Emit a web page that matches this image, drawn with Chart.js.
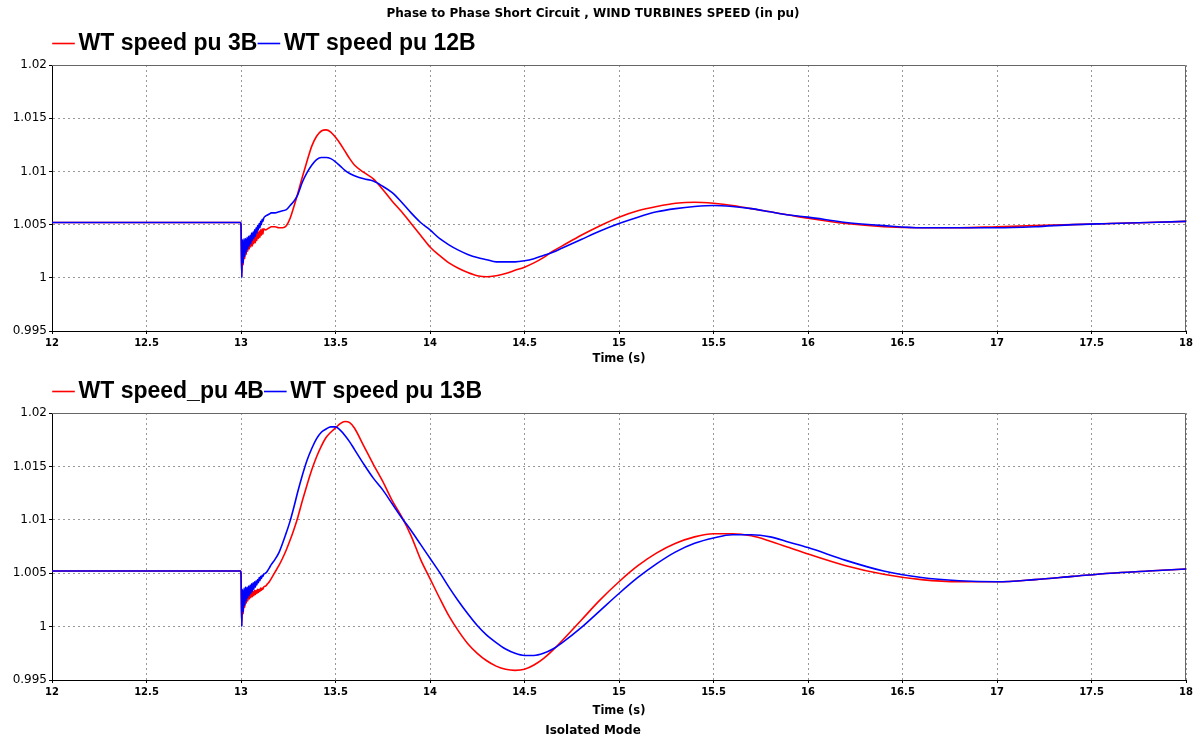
<!DOCTYPE html>
<html>
<head>
<meta charset="utf-8">
<title>WT speed</title>
<script src="https://cdn.jsdelivr.net/npm/chart.js@4.4.0/dist/chart.umd.min.js"></script>
<style>
  html, body { margin: 0; padding: 0; background: #fff; }
  .panel { position: absolute; left: 0; width: 1201px; }
  #panelTop { top: 0; height: 372px; }
  #panelBottom { top: 372px; height: 370px; }
</style>
</head>
<body>
<div class="panel" id="panelTop"><canvas id="topChart"></canvas></div>
<div class="panel" id="panelBottom"><canvas id="bottomChart"></canvas></div>
<script>
// time axis (s), shared by all four traces
const time = [
  12, 12.998,
  13.000, 13.004, 13.008, 13.012, 13.016, 13.020, 13.024, 13.028, 13.032, 13.036,
  13.040, 13.044, 13.048, 13.052, 13.056, 13.060, 13.064, 13.068, 13.072, 13.076,
  13.080, 13.084, 13.088, 13.092, 13.096, 13.100, 13.104, 13.108, 13.112, 13.116, 13.120,
  13.13, 13.14, 13.15, 13.16, 13.18, 13.2, 13.22, 13.24, 13.26, 13.28,
  13.3, 13.325, 13.35, 13.375, 13.4, 13.425, 13.45, 13.475, 13.5, 13.525, 13.55, 13.575, 13.6,
  13.65, 13.7, 13.75, 13.8, 13.85, 13.9, 13.95, 14, 14.05, 14.1, 14.15,
  14.2, 14.25, 14.3, 14.35, 14.4, 14.45, 14.5, 14.55, 14.6, 14.65, 14.7,
  14.8, 14.9, 15, 15.1, 15.2, 15.3, 15.4, 15.5, 15.6, 15.7, 15.8, 15.9, 16,
  16.2, 16.4, 16.6, 16.8, 17, 17.2, 17.4, 17.6, 17.8, 18
];

// upper plot
const speed3B = [
  1.0052, 1.0052,
  1.0050, 1.0001, 1.0033, 1.0012, 1.0034, 1.0018, 1.0034, 1.0022, 1.0035, 1.0025,
  1.0036, 1.0027, 1.0037, 1.0029, 1.0038, 1.0030, 1.0039, 1.0032, 1.0040, 1.0033,
  1.0041, 1.0035, 1.0043, 1.0037, 1.0044, 1.0038, 1.0045, 1.0040, 1.0046, 1.0041, 1.0046,
  1.0045, 1.0046, 1.0047, 1.0048, 1.0048, 1.0047, 1.0047, 1.0049, 1.0056, 1.0067,
  1.0079, 1.0095, 1.0110, 1.0124, 1.0133, 1.0138, 1.0139, 1.0137, 1.0132, 1.0126, 1.0119, 1.0112, 1.0106,
  1.0099, 1.0093, 1.0083, 1.0072, 1.0062, 1.0051, 1.0040, 1.0029, 1.0021, 1.0014, 1.0009,
  1.0005, 1.0002, 1.0001, 1.0002, 1.0004, 1.0007, 1.0010, 1.0014, 1.0019, 1.0025, 1.0030,
  1.0040, 1.0049, 1.0057, 1.0063, 1.0067, 1.0070, 1.0071, 1.0070, 1.0068, 1.0065, 1.0062, 1.0059, 1.0056,
  1.0051, 1.0048, 1.0047, 1.0047, 1.0048, 1.0049, 1.0050, 1.0051, 1.0052, 1.0053
];
const speed12B = [
  1.0052, 1.0052,
  1.0050, 1.0000, 1.0036, 1.0014, 1.0037, 1.0020, 1.0037, 1.0024, 1.0038, 1.0027,
  1.0039, 1.0030, 1.0040, 1.0032, 1.0042, 1.0035, 1.0043, 1.0037, 1.0045, 1.0039,
  1.0047, 1.0042, 1.0049, 1.0045, 1.0051, 1.0047, 1.0053, 1.0050, 1.0055, 1.0053, 1.0056,
  1.0058, 1.0059, 1.0060, 1.0061, 1.0061, 1.0062, 1.0063, 1.0064, 1.0068, 1.0072,
  1.0078, 1.0090, 1.0099, 1.0106, 1.0111, 1.0113, 1.0113, 1.0112, 1.0109, 1.0105, 1.0101, 1.0098, 1.0096,
  1.0093, 1.0091, 1.0086, 1.0080, 1.0071, 1.0061, 1.0052, 1.0045, 1.0037, 1.0031, 1.0026,
  1.0022, 1.0019, 1.0017, 1.0015, 1.0015, 1.0015, 1.0016, 1.0018, 1.0021, 1.0024, 1.0028,
  1.0036, 1.0044, 1.0051, 1.0057, 1.0062, 1.0065, 1.0067, 1.0068, 1.0067, 1.0065, 1.0062, 1.0059, 1.0057,
  1.0052, 1.0049, 1.0047, 1.0047, 1.0047, 1.0048, 1.0050, 1.0051, 1.0052, 1.0053
];

// lower plot
const speed4B = [
  1.0052, 1.0052,
  1.0050, 1.0001, 1.0030, 1.0012, 1.0030, 1.0018, 1.0031, 1.0022, 1.0031, 1.0024,
  1.0032, 1.0026, 1.0032, 1.0027, 1.0033, 1.0028, 1.0033, 1.0029, 1.0034, 1.0030,
  1.0034, 1.0031, 1.0035, 1.0032, 1.0035, 1.0033, 1.0036, 1.0034, 1.0036, 1.0035, 1.0037,
  1.0038, 1.0040, 1.0042, 1.0045, 1.0051, 1.0057, 1.0064, 1.0072, 1.0081, 1.0091,
  1.0102, 1.0118, 1.0133, 1.0147, 1.0159, 1.0169, 1.0177, 1.0182, 1.0186, 1.0190, 1.0192, 1.0191, 1.0186,
  1.0169, 1.0152, 1.0136, 1.0118, 1.0103, 1.0085, 1.0063, 1.0045, 1.0027, 1.0010, 0.9996,
  0.9984, 0.9975, 0.9968, 0.9963, 0.9960, 0.9959, 0.9960, 0.9964, 0.9970, 0.9978, 0.9987,
  1.0006, 1.0025, 1.0042, 1.0057, 1.0069, 1.0078, 1.0084, 1.0087, 1.0087, 1.0085, 1.0080, 1.0074, 1.0068,
  1.0057, 1.0049, 1.0044, 1.0042, 1.0042, 1.0044, 1.0047, 1.0050, 1.0052, 1.0054
];
const speed13B = [
  1.0052, 1.0052,
  1.0050, 1.0000, 1.0035, 1.0014, 1.0036, 1.0020, 1.0037, 1.0024, 1.0037, 1.0027,
  1.0038, 1.0029, 1.0039, 1.0031, 1.0040, 1.0033, 1.0041, 1.0035, 1.0042, 1.0037,
  1.0043, 1.0039, 1.0044, 1.0041, 1.0046, 1.0043, 1.0047, 1.0045, 1.0048, 1.0047, 1.0049,
  1.0050, 1.0052, 1.0055, 1.0058, 1.0063, 1.0069, 1.0078, 1.0088, 1.0099, 1.0112,
  1.0126, 1.0142, 1.0156, 1.0167, 1.0176, 1.0182, 1.0185, 1.0187, 1.0187, 1.0184, 1.0179, 1.0173, 1.0166,
  1.0152, 1.0139, 1.0128, 1.0115, 1.0102, 1.0090, 1.0077, 1.0064, 1.0051, 1.0037, 1.0024,
  1.0012, 1.0001, 0.9992, 0.9985, 0.9979, 0.9975, 0.9973, 0.9973, 0.9975, 0.9979, 0.9985,
  0.9999, 1.0015, 1.0031, 1.0046, 1.0059, 1.0070, 1.0078, 1.0083, 1.0086, 1.0086, 1.0084, 1.0079, 1.0074,
  1.0062, 1.0052, 1.0046, 1.0043, 1.0042, 1.0044, 1.0047, 1.0050, 1.0052, 1.0054
];

const xTicks = [12, 12.5, 13, 13.5, 14, 14.5, 15, 15.5, 16, 16.5, 17, 17.5, 18];
const yTicks = [0.995, 1, 1.005, 1.01, 1.015, 1.02];

Chart.defaults.font.family = "'DejaVu Sans', sans-serif";
Chart.defaults.color = '#000';
Chart.defaults.animation = false;

function points(values) {
  return time.map((t, i) => ({ x: t, y: values[i] }));
}

// top and right edges of the plot frame (left/bottom come from the axes)
const frame = {
  id: 'frame',
  beforeDatasetsDraw(chart) {
    const { ctx, chartArea: a } = chart;
    ctx.save();
    ctx.strokeStyle = '#666';
    ctx.lineWidth = 1;
    ctx.beginPath();
    ctx.moveTo(a.left, a.top + 0.5);
    ctx.lineTo(a.right - 0.5, a.top + 0.5);
    ctx.lineTo(a.right - 0.5, a.bottom);
    ctx.stroke();
    ctx.restore();
  }
};

function series(label, values, color, order) {
  return {
    label, data: points(values), borderColor: color, backgroundColor: color,
    borderWidth: 1.6, pointRadius: 0, cubicInterpolationMode: 'monotone', order
  };
}

function makeChart(id, names, redVals, blueVals, cfg) {
  return new Chart(document.getElementById(id), {
    type: 'line',
    data: {
      datasets: [
        series(names[0], redVals, '#ff0000', 1),
        series(names[1], blueVals, '#0000ff', 0)
      ]
    },
    plugins: [frame],
    options: {
      responsive: true,
      maintainAspectRatio: false,
      layout: { padding: { left: 0, right: 15, top: 0, bottom: 0 } },
      plugins: {
        tooltip: { enabled: false },
        legend: {
          position: 'top', align: 'start', fullSize: false,
          labels: {
            usePointStyle: true, pointStyle: 'line', boxWidth: 7, boxHeight: 16, padding: 8,
            font: { family: "'Liberation Sans', Arial, sans-serif", size: 23, weight: 'bold' },
            sort: (a, b) => a.datasetIndex - b.datasetIndex
          }
        },
        title: cfg.title
      },
      scales: {
        x: {
          type: 'linear', min: 12, max: 18,
          afterBuildTicks: s => { s.ticks = xTicks.map(v => ({ value: v })); },
          afterFit: s => { s.height = cfg.xHeight; },
          ticks: {
            font: { size: 10, weight: 'bold' }, padding: 3, maxRotation: 0, autoSkip: false,
            callback: v => String(v)
          },
          grid: { color: '#999', tickColor: '#000', tickLength: 3 },
          border: { color: '#000', width: 1, dash: [2, 3] },
          title: {
            display: true, text: 'Time (s)',
            font: { size: 11.5, weight: 'bold' },
            padding: { top: 0, bottom: cfg.timePad }
          }
        },
        y: {
          min: 0.995, max: 1.02,
          afterBuildTicks: s => { s.ticks = yTicks.map(v => ({ value: v })); },
          afterFit: s => { s.width = 52; },
          ticks: { font: { size: 12 }, padding: 2, callback: v => String(v) },
          grid: { color: '#999', tickColor: '#000', tickLength: 3 },
          border: { color: '#000', width: 1, dash: [2, 3] }
        }
      }
    }
  });
}

makeChart('topChart', ['WT speed pu 3B', 'WT speed pu 12B'], speed3B, speed12B, {
  xHeight: 41,
  timePad: 6,
  title: {
    display: true, position: 'top',
    text: 'Phase to Phase Short Circuit , WIND TURBINES SPEED (in pu)',
    font: { size: 12, weight: 'bold' },
    padding: { top: 6.8, bottom: 2.8 }
  }
});

makeChart('bottomChart', ['WT speed_pu 4B', 'WT speed pu 13B'], speed4B, speed13B, {
  xHeight: 40,
  timePad: 2,
  title: {
    display: true, position: 'bottom',
    text: 'Isolated Mode',
    font: { size: 12, weight: 'bold' },
    padding: { top: 3.8, bottom: 3.8 }
  }
});
</script>
</body>
</html>
